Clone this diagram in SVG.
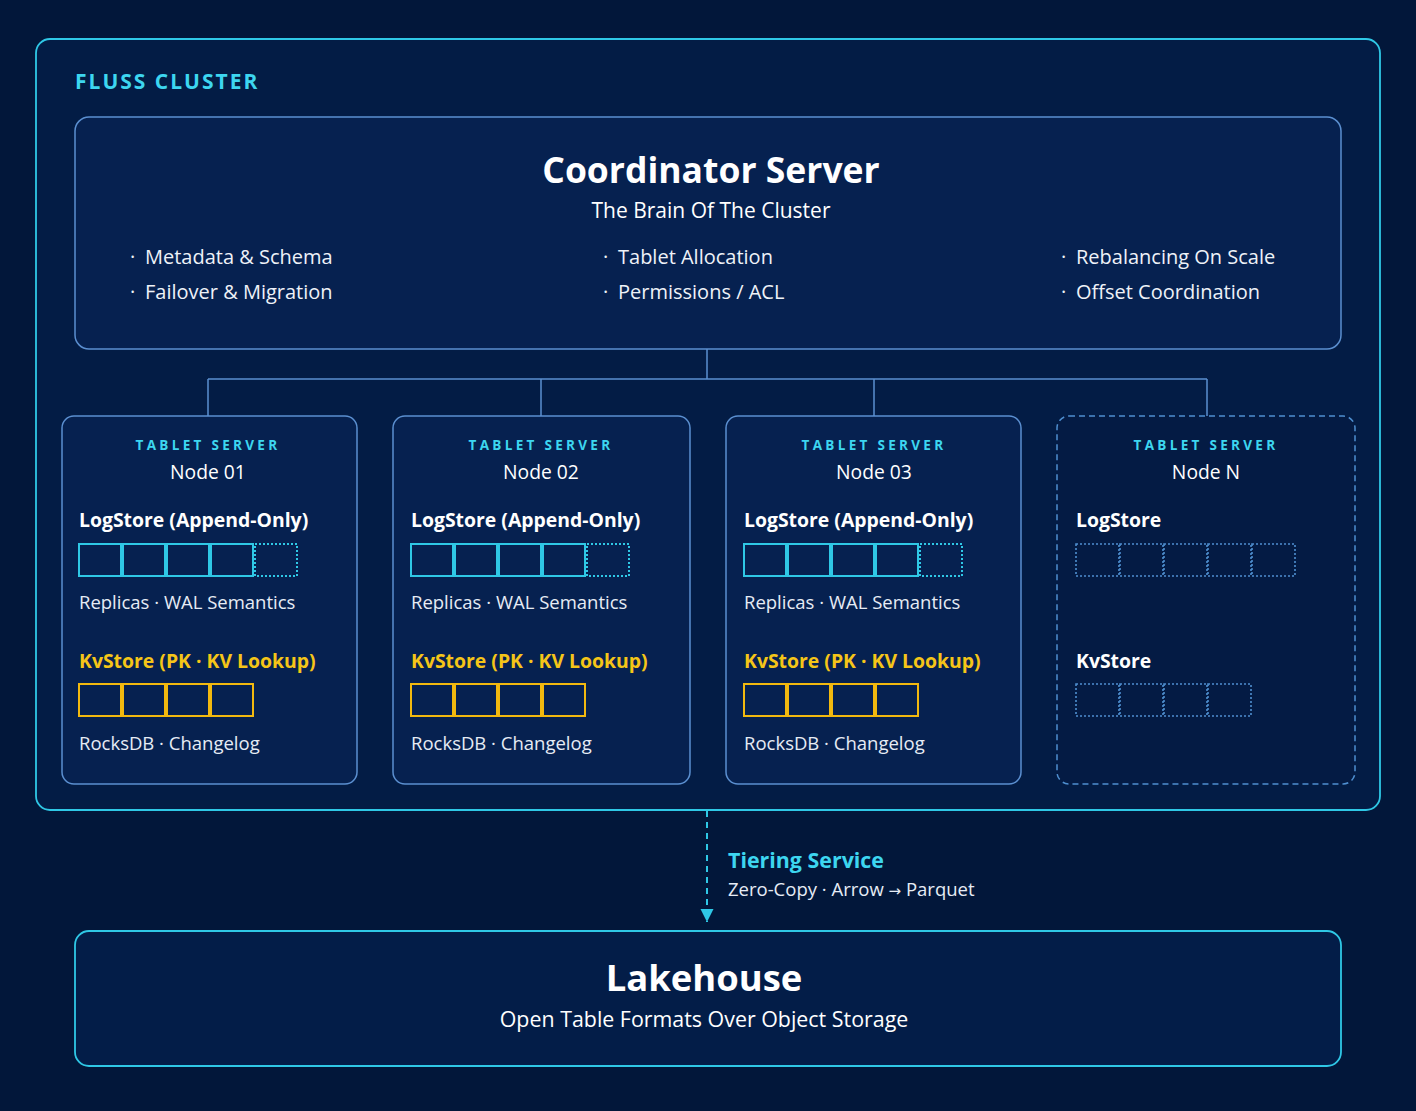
<svg xmlns="http://www.w3.org/2000/svg" width="1416" height="1111" viewBox="0 0 1416 1111">
<defs>
<style>
text{font-family:"Open Sans","Noto Sans","Liberation Sans",sans-serif;fill:#ffffff}
.lbl{font-weight:700;fill:#3dd6f0}
.ts{font-size:13.5px;font-weight:700;letter-spacing:3.3px;fill:#3dd6f0;text-anchor:middle}
.node{font-size:19.3px;text-anchor:middle}
.h{font-size:19.4px;font-weight:700}
.kvh{font-size:19.4px;font-weight:700;fill:#f5c518}
.sub{font-size:18.5px;fill:#e6ecf5}
.bul{font-size:20px;fill:#eef2f8}
.box{fill:#062150;stroke:#5b8fd0;stroke-width:1.5}
.boxd{fill:#041b44;stroke:#4f8fd0;stroke-width:1.5;stroke-dasharray:6 4}
.lc{fill:none;stroke:#2fc8e6;stroke-width:2}
.lcd{fill:none;stroke:#2fc8e6;stroke-width:2;stroke-dasharray:2 2}
.kc{fill:none;stroke:#f2b90f;stroke-width:2}
.nc{fill:none;stroke:#4f8fd0;stroke-width:1.6;stroke-dasharray:2 2}
.conn{fill:none;stroke:#5b8fd0;stroke-width:1.5}
</style>
<marker id="ah" markerWidth="14" markerHeight="14" refX="13" refY="6.5" orient="auto" markerUnits="userSpaceOnUse">
<path d="M0,0 L13,6.5 L0,13 Z" fill="#2fc8e6"/>
</marker>
</defs>
<rect width="1416" height="1111" fill="#02173a"/>

<g id="cluster">
<rect x="36" y="39" width="1344" height="771" rx="14" fill="#031c45" stroke="#2fc8e6" stroke-width="1.8"/>
<text x="75" y="89" class="lbl" font-size="21" letter-spacing="2">FLUSS CLUSTER</text>
</g>

<g id="coordinator">
<rect x="75" y="117" width="1266" height="232" rx="14" class="box"/>
<text x="711" y="183" font-size="35.5" font-weight="700" text-anchor="middle">Coordinator Server</text>
<text x="711" y="218" font-size="21" text-anchor="middle" fill="#eef2f8">The Brain Of The Cluster</text>
<text x="130" y="264" class="bul">·</text><text x="145" y="264" class="bul">Metadata &amp; Schema</text>
<text x="130" y="299" class="bul">·</text><text x="145" y="299" class="bul">Failover &amp; Migration</text>
<text x="603" y="264" class="bul">·</text><text x="618" y="264" class="bul">Tablet Allocation</text>
<text x="603" y="299" class="bul">·</text><text x="618" y="299" class="bul">Permissions / ACL</text>
<text x="1061" y="264" class="bul">·</text><text x="1076" y="264" class="bul">Rebalancing On Scale</text>
<text x="1061" y="299" class="bul">·</text><text x="1076" y="299" class="bul">Offset Coordination</text>
</g>

<g id="connectors">
<path class="conn" d="M707,349 V379 M208,379 H1207 M208,379 V416 M541,379 V416 M874,379 V416 M1207,379 V416"/>
<path d="M707,811 V922" fill="none" stroke="#2fc8e6" stroke-width="2" stroke-dasharray="6 5" marker-end="url(#ah)"/>
</g>

<g id="node01">
<rect x="62" y="416" width="295" height="368" rx="12" class="box"/>
<text x="208" y="450" class="ts">TABLET SERVER</text>
<text x="208" y="479" class="node">Node 01</text>
<text x="79" y="527" class="h">LogStore (Append-Only)</text>
<rect x="79" y="544" width="42" height="32" class="lc"/><rect x="123" y="544" width="42" height="32" class="lc"/><rect x="167" y="544" width="42" height="32" class="lc"/><rect x="211" y="544" width="42" height="32" class="lc"/><rect x="255" y="544" width="42" height="32" class="lcd"/>
<text x="79" y="609" class="sub">Replicas · WAL Semantics</text>
<text x="79" y="668" class="kvh">KvStore (PK · KV Lookup)</text>
<rect x="79" y="684" width="42" height="32" class="kc"/><rect x="123" y="684" width="42" height="32" class="kc"/><rect x="167" y="684" width="42" height="32" class="kc"/><rect x="211" y="684" width="42" height="32" class="kc"/>
<text x="79" y="750" class="sub">RocksDB · Changelog</text>
</g>

<g id="node02">
<rect x="393" y="416" width="297" height="368" rx="12" class="box"/>
<text x="541" y="450" class="ts">TABLET SERVER</text>
<text x="541" y="479" class="node">Node 02</text>
<text x="411" y="527" class="h">LogStore (Append-Only)</text>
<rect x="411" y="544" width="42" height="32" class="lc"/><rect x="455" y="544" width="42" height="32" class="lc"/><rect x="499" y="544" width="42" height="32" class="lc"/><rect x="543" y="544" width="42" height="32" class="lc"/><rect x="587" y="544" width="42" height="32" class="lcd"/>
<text x="411" y="609" class="sub">Replicas · WAL Semantics</text>
<text x="411" y="668" class="kvh">KvStore (PK · KV Lookup)</text>
<rect x="411" y="684" width="42" height="32" class="kc"/><rect x="455" y="684" width="42" height="32" class="kc"/><rect x="499" y="684" width="42" height="32" class="kc"/><rect x="543" y="684" width="42" height="32" class="kc"/>
<text x="411" y="750" class="sub">RocksDB · Changelog</text>
</g>

<g id="node03">
<rect x="726" y="416" width="295" height="368" rx="12" class="box"/>
<text x="874" y="450" class="ts">TABLET SERVER</text>
<text x="874" y="479" class="node">Node 03</text>
<text x="744" y="527" class="h">LogStore (Append-Only)</text>
<rect x="744" y="544" width="42" height="32" class="lc"/><rect x="788" y="544" width="42" height="32" class="lc"/><rect x="832" y="544" width="42" height="32" class="lc"/><rect x="876" y="544" width="42" height="32" class="lc"/><rect x="920" y="544" width="42" height="32" class="lcd"/>
<text x="744" y="609" class="sub">Replicas · WAL Semantics</text>
<text x="744" y="668" class="kvh">KvStore (PK · KV Lookup)</text>
<rect x="744" y="684" width="42" height="32" class="kc"/><rect x="788" y="684" width="42" height="32" class="kc"/><rect x="832" y="684" width="42" height="32" class="kc"/><rect x="876" y="684" width="42" height="32" class="kc"/>
<text x="744" y="750" class="sub">RocksDB · Changelog</text>
</g>

<g id="nodeN">
<rect x="1057" y="416" width="298" height="368" rx="12" class="boxd"/>
<text x="1206" y="450" class="ts">TABLET SERVER</text>
<text x="1206" y="479" class="node">Node N</text>
<text x="1076" y="527" class="h">LogStore</text>
<rect x="1076" y="544" width="43" height="32" class="nc"/><rect x="1120" y="544" width="43" height="32" class="nc"/><rect x="1164" y="544" width="43" height="32" class="nc"/><rect x="1208" y="544" width="43" height="32" class="nc"/><rect x="1252" y="544" width="43" height="32" class="nc"/>
<text x="1076" y="668" class="h">KvStore</text>
<rect x="1076" y="684" width="43" height="32" class="nc"/><rect x="1120" y="684" width="43" height="32" class="nc"/><rect x="1164" y="684" width="43" height="32" class="nc"/><rect x="1208" y="684" width="43" height="32" class="nc"/>
</g>

<g id="tiering">
<text x="728" y="868" class="lbl" font-size="21.4">Tiering Service</text>
<text x="728" y="896" class="sub">Zero-Copy · Arrow <tspan font-family="'DejaVu Sans',sans-serif" font-size="15">→</tspan> Parquet</text>
</g>

<g id="lakehouse">
<rect x="75" y="931" width="1266" height="135" rx="14" fill="#031d48" stroke="#2fc8e6" stroke-width="1.8"/>
<text x="704" y="991" font-size="36.4" font-weight="700" text-anchor="middle">Lakehouse</text>
<text x="704" y="1027" font-size="21.4" text-anchor="middle" fill="#eef2f8">Open Table Formats Over Object Storage</text>
</g>
</svg>
